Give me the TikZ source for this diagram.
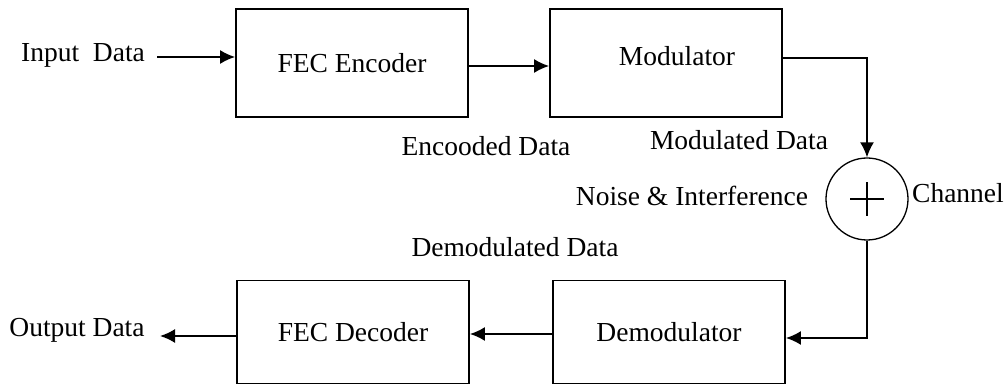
\documentclass[tikz,border=0pt]{standalone}
\usepackage{fontspec}
\setmainfont{Liberation Serif}
\usetikzlibrary{arrows.meta}
\begin{document}
\begin{tikzpicture}[x=1pt,y=-1pt,
  font=\fontsize{27.5}{32}\selectfont,
  blockbox/.style={draw, line width=1.8pt, minimum width=232pt, inner sep=0pt},
  tag/.style={inner sep=0pt},
  wire/.style={line width=1.8pt},
  flow/.style={wire, -{Latex[length=15pt,width=14pt]}},
  sumnode/.style={draw, circle, line width=1.3pt, minimum size=82pt, inner sep=0pt}]
\useasboundingbox (0,0) rectangle (1005,390);

% processing blocks
\node[blockbox, minimum height=108pt] (enc) at (352,63) {FEC Encoder};
\node[blockbox, minimum height=108pt] (mod) at (666,63) {};
\node[tag] (modtxt) at (677,56) {Modulator};
\node[blockbox, minimum height=103pt] (dec) at (353,332) {FEC Decoder};
\node[blockbox, minimum height=103pt] (demod) at (669,332) {Demodulator};

% channel adder
\node[sumnode] (sum) at (867,199) {};
\draw[line width=1.3pt] ([xshift=-17pt]sum.center) -- ([xshift=17pt]sum.center);
\draw[line width=1.3pt] ([yshift=-17pt]sum.center) -- ([yshift=17pt]sum.center);

% labels
\node[tag] (intxt) at (83,55) {Input\ \ Data};
\node[tag] (enctxt) at (486,146) {Encooded Data};
\node[tag] (modout) at (739,140) {Modulated Data};
\node[tag] (noise) at (692,196) {Noise \& Interference};
\node[tag] (chan) at (958,193) {Channel};
\node[tag] (demodtxt) at (515,247) {Demodulated Data};
\node[tag] (outtxt) at (77,330) {Output Data};

% connection points
\coordinate (inStart) at (157,57);
\coordinate (encRow) at (0,66);
\coordinate (modRow) at (0,58);
\coordinate (demRow) at (0,338);
\coordinate (decRow) at (0,334);
\coordinate (outRow) at (0,336);
\coordinate (outEnd) at (160,336);

% signal path
\draw[flow] (inStart) -- (enc.west |- inStart);
\draw[flow] (enc.east |- encRow) -- (mod.west |- encRow);
\draw[flow] (mod.east |- modRow) -| (sum.north);
\draw[flow] (sum.south) |- (demod.east |- demRow);
\draw[flow] (demod.west |- decRow) -- (dec.east |- decRow);
\draw[flow] (dec.west |- outRow) -- (outEnd);
\end{tikzpicture}
\end{document}
